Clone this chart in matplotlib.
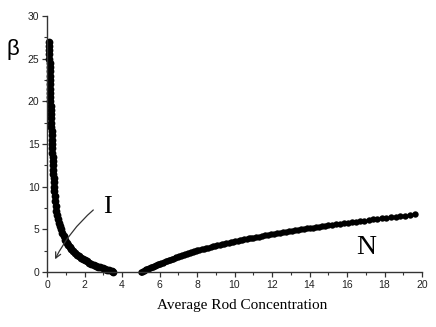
import matplotlib
matplotlib.use("Agg")
import matplotlib.pyplot as plt
from matplotlib.ticker import MultipleLocator

# Isotropic (I) branch
i_x = [0.110, 0.115, 0.120, 0.125, 0.130, 0.135, 0.140, 0.145, 0.150, 0.155,
       0.160, 0.165, 0.170, 0.175, 0.180, 0.189, 0.198, 0.207, 0.216, 0.225,
       0.234, 0.243, 0.252, 0.261, 0.270, 0.280, 0.290, 0.300, 0.310, 0.320,
       0.330, 0.340, 0.350, 0.360, 0.370,
       0.39, 0.41, 0.44, 0.47, 0.50, 0.54, 0.58, 0.63, 0.69, 0.75, 0.82, 0.89,
       0.96, 1.04, 1.12, 1.20, 1.29, 1.38, 1.48, 1.58, 1.68, 1.79, 1.90, 2.01,
       2.12, 2.24, 2.36, 2.48, 2.60, 2.72, 2.84, 2.96, 3.08, 3.20, 3.32, 3.44, 3.52]
i_y = [27.0, 26.5, 26.0, 25.5, 25.0, 24.5, 24.0, 23.5, 23.0, 22.5,
       22.0, 21.5, 21.0, 20.5, 20.0, 19.5, 19.0, 18.5, 18.0, 17.5,
       17.0, 16.5, 16.0, 15.5, 15.0, 14.5, 14.0, 13.5, 13.0, 12.5,
       12.0, 11.5, 11.0, 10.5, 10.0,
       9.5, 8.9, 8.3, 7.7, 7.2, 6.7, 6.2, 5.7, 5.4, 5.0, 4.6, 4.2,
       3.8, 3.45, 3.15, 2.9, 2.65, 2.43, 2.22, 2.02, 1.84, 1.67, 1.51, 1.37,
       1.24, 1.11, 0.98, 0.86, 0.74, 0.63, 0.53, 0.44, 0.35, 0.26, 0.18, 0.10, 0.05]

# Nematic (N) branch
n_x = [5.00, 5.05, 5.10, 5.15, 5.20, 5.25, 5.30, 5.35, 5.40, 5.45, 5.50, 5.55,
       5.60, 5.65, 5.70, 5.75, 5.80, 5.85, 5.90, 5.95,
       6.00, 6.08, 6.16, 6.24, 6.32, 6.40, 6.48, 6.56, 6.64, 6.72, 6.80, 6.88,
       6.96, 7.04, 7.12, 7.20, 7.28, 7.36, 7.44, 7.52, 7.60, 7.68, 7.76, 7.84, 7.92,
       8.00, 8.12, 8.24, 8.36, 8.48, 8.60, 8.72, 8.84, 8.96, 9.08, 9.20, 9.32,
       9.44, 9.56, 9.68, 9.80, 9.92, 10.04, 10.16, 10.28, 10.40, 10.52, 10.64, 10.76, 10.88,
       11.00, 11.16, 11.32, 11.48, 11.64, 11.80, 11.96, 12.12, 12.28, 12.44, 12.60,
       12.76, 12.92, 13.08, 13.24, 13.40, 13.56, 13.72, 13.88, 14.04, 14.20, 14.36,
       14.52, 14.68, 14.84,
       15.00, 15.21, 15.42, 15.63, 15.84, 16.05, 16.27, 16.49, 16.71, 16.93, 17.16,
       17.39, 17.62, 17.86, 18.10, 18.35, 18.60, 18.85, 19.10, 19.35, 19.60]
n_y = [0.00, 0.05, 0.10, 0.15, 0.20, 0.25, 0.30, 0.35, 0.40, 0.45, 0.50, 0.55,
       0.59, 0.64, 0.69, 0.74, 0.78, 0.83, 0.88, 0.92,
       0.97, 1.04, 1.11, 1.17, 1.24, 1.31, 1.38, 1.45, 1.51, 1.58, 1.65, 1.72,
       1.79, 1.85, 1.90, 1.96, 2.02, 2.07, 2.13, 2.18, 2.24, 2.30, 2.35, 2.41, 2.46,
       2.52, 2.59, 2.66, 2.73, 2.80, 2.87, 2.94, 3.01, 3.08, 3.14, 3.20, 3.26,
       3.32, 3.38, 3.44, 3.50, 3.56, 3.62, 3.67, 3.72, 3.77, 3.82, 3.88, 3.93, 3.98,
       4.03, 4.09, 4.16, 4.22, 4.29, 4.35, 4.41, 4.47, 4.53, 4.59, 4.65,
       4.71, 4.77, 4.83, 4.88, 4.94, 4.99, 5.05, 5.10, 5.15, 5.20, 5.26,
       5.31, 5.36, 5.41,
       5.46, 5.52, 5.59, 5.65, 5.71, 5.77, 5.84, 5.90, 5.96, 6.03, 6.09,
       6.16, 6.22, 6.28, 6.35, 6.41, 6.48, 6.54, 6.61, 6.67, 6.74]

x_ticks = [0, 2, 4, 6, 8, 10, 12, 14, 16, 18, 20]
y_ticks = [0, 5, 10, 15, 20, 25, 30]

fig = plt.figure(figsize=(4.36, 3.27), dpi=100)
ax = fig.add_axes([47/436, 55/327, 375/436, 256/327])

ax.plot(i_x, i_y, 'o', color='black', markersize=5.6, markeredgewidth=0, clip_on=False)
ax.plot(n_x, n_y, 'o', color='black', markersize=4.6, markeredgewidth=0, clip_on=False)

ax.set_xlim(0, 20)
ax.set_ylim(0, 30)
ax.set_xticks(x_ticks)
ax.set_yticks(y_ticks)
ax.xaxis.set_minor_locator(MultipleLocator(1))
ax.yaxis.set_minor_locator(MultipleLocator(2.5))
for s in ['top', 'right']:
    ax.spines[s].set_visible(False)
for s in ['left', 'bottom']:
    ax.spines[s].set_color('#333333')
    ax.spines[s].set_linewidth(1.0)
ax.tick_params(which='major', direction='out', length=3.5, width=0.9, colors='#333333',
               labelsize=7.5, pad=2)
ax.tick_params(which='minor', direction='out', length=2, width=0.8, colors='#333333')
for lab in ax.get_xticklabels() + ax.get_yticklabels():
    lab.set_family('Liberation Sans')
    lab.set_color('#222222')

fig.text(241.7/436, 1 - 306/327, 'Average Rod Concentration', family='Liberation Serif',
         fontsize=11, ha='center', va='center')
fig.text(13/436, 1 - 50/327, 'β', family='Liberation Sans', fontsize=16, ha='center', va='center')

ax.text(3.25, 7.6, 'I', family='Liberation Serif', fontsize=19, ha='center', va='center')
ax.text(17.0, 2.9, 'N', family='Liberation Serif', fontsize=20, ha='center', va='center')
ax.annotate('', xy=(0.43, 1.49), xytext=(2.47, 7.27),
            arrowprops=dict(arrowstyle='->', color='#333333', lw=0.9,
                            connectionstyle='arc3,rad=0.1', shrinkA=0, shrinkB=0))

fig.savefig('out.png', dpi=100)
